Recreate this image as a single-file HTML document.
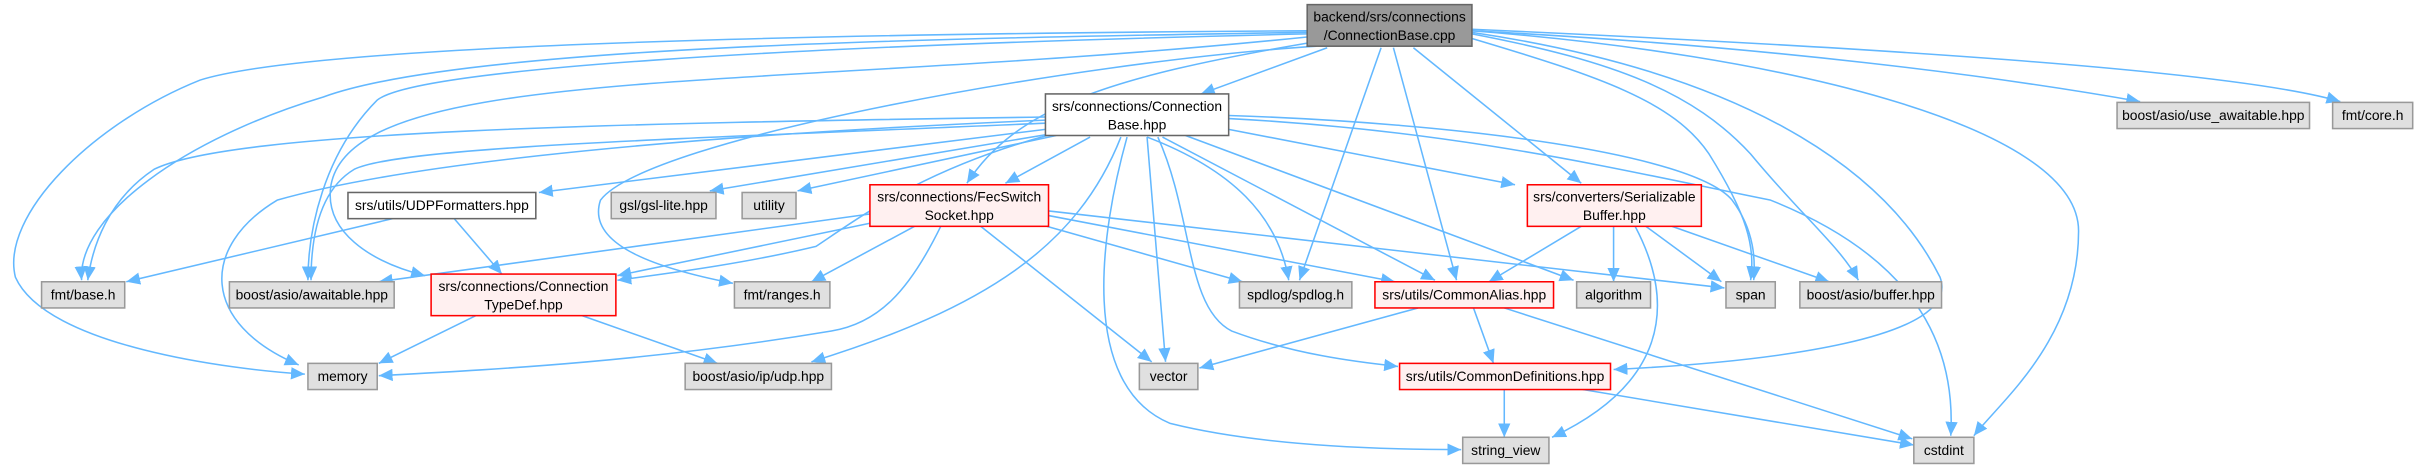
<!DOCTYPE html>
<html><head><meta charset="utf-8"><style>
html,body{margin:0;padding:0;background:#fff;}
svg{display:block;}
text{font-family:"Liberation Sans",Arial,sans-serif;font-size:9px;fill:#000;text-anchor:middle;}
.e{fill:none;stroke:#63b8ff;stroke-width:1;marker-end:url(#a);}
.g{fill:#e0e0e0;stroke:#999;stroke-width:1;}
.w{fill:#fff;stroke:#666;stroke-width:1;}
.r{fill:#fff0f0;stroke:#f00;stroke-width:1;}
.k{fill:#999;stroke:#666;stroke-width:1;}
</style></head><body>
<svg width="2425" height="465" viewBox="0 0 1575 302" preserveAspectRatio="none" xmlns="http://www.w3.org/2000/svg">
<defs><marker id="a" markerUnits="userSpaceOnUse" markerWidth="10" markerHeight="8" refX="9" refY="4" orient="auto"><path d="M0,0 L9,4 L0,8 Z" fill="#63b8ff"/></marker></defs>
<path class="e" d="M849,20 C500,22 200,30 130,52 C60,80 0,140 10,180 C30,225 150,240 198,243"/>
<path class="e" d="M849,21 C600,25 300,30 210,63 C120,90 50,140 53,182"/>
<path class="e" d="M849,22 C500,30 270,45 245,65 C210,100 200,150 200,182"/>
<path class="e" d="M849,24 C500,60 230,40 215,120 C210,150 240,170 276,179"/>
<path class="e" d="M855,30 C700,40 420,90 390,130 C380,160 430,175 476,184"/>
<path class="e" d="M849,28 C720,50 660,70 628,119"/>
<path class="e" d="M862,31 L780,61"/>
<path class="e" d="M897,31 L844,182"/>
<path class="e" d="M905,31 L946,182"/>
<path class="e" d="M918,31 L1027,119"/>
<path class="e" d="M956,25 C1040,50 1087,66 1110,100 C1135,140 1140,160 1137,182"/>
<path class="e" d="M956,22 C1050,40 1100,60 1137,100 C1170,140 1195,160 1207,182"/>
<path class="e" d="M956,21 C1150,50 1230,120 1260,180 C1275,220 1150,235 1048,240"/>
<path class="e" d="M956,20 C1150,35 1350,80 1350,150 C1350,220 1300,260 1282,283"/>
<path class="e" d="M956,20 C1150,30 1300,50 1390,66"/>
<path class="e" d="M956,19 C1200,30 1450,45 1520,66"/>
<path class="e" d="M679,76 C400,80 150,85 100,110 C70,130 60,160 57,182"/>
<path class="e" d="M679,78 C400,90 250,110 180,130 C130,160 130,210 194,237"/>
<path class="e" d="M679,80 C450,90 260,95 230,110 C205,125 202,160 202,182"/>
<path class="e" d="M680,88 C600,110 560,140 530,160 C480,172 430,178 401,182"/>
<path class="e" d="M679,84 L350,125"/>
<path class="e" d="M682,87 L461,124"/>
<path class="e" d="M686,88 L518,124"/>
<path class="e" d="M708,89 L653,119"/>
<path class="e" d="M745,89 C800,110 830,140 837,182"/>
<path class="e" d="M755,89 L932,182"/>
<path class="e" d="M770,88 L1022,182"/>
<path class="e" d="M798,84 L984,120"/>
<path class="e" d="M798,75 C950,80 1100,100 1125,130 C1140,150 1140,170 1139,182"/>
<path class="e" d="M798,77 C950,85 1050,110 1150,130 C1250,170 1270,230 1267,283"/>
<path class="e" d="M745,89 L757,235"/>
<path class="e" d="M728,89 C700,160 640,200 527,235"/>
<path class="e" d="M732,89 C715,150 700,250 760,275 C820,290 900,292 949,292"/>
<path class="e" d="M752,89 C775,140 770,200 800,215 C840,230 880,235 908,238"/>
<path class="e" d="M255,142 L82,183"/>
<path class="e" d="M295,142 L326,178"/>
<path class="e" d="M611,147 C590,190 570,210 540,215 C420,235 320,240 246,244"/>
<path class="e" d="M565,139 L246,183"/>
<path class="e" d="M565,145 L401,179"/>
<path class="e" d="M594,147 L527,183"/>
<path class="e" d="M637,147 L748,235"/>
<path class="e" d="M680,147 L807,183"/>
<path class="e" d="M681,140 L906,183"/>
<path class="e" d="M681,137 L1120,187"/>
<path class="e" d="M309,205 L246,236"/>
<path class="e" d="M378,205 L466,236"/>
<path class="e" d="M1027,147 L967,183"/>
<path class="e" d="M1048,147 L1048,183"/>
<path class="e" d="M1069,147 L1118,183"/>
<path class="e" d="M1086,147 L1188,183"/>
<path class="e" d="M1062,147 C1090,200 1080,250 1008,284"/>
<path class="e" d="M921,200 L779,239"/>
<path class="e" d="M957,200 L970,236"/>
<path class="e" d="M977,200 L1242,285"/>
<path class="e" d="M977,253 L977,284"/>
<path class="e" d="M1028,253 L1243,289"/>

<rect class="k" x="849" y="3" width="107" height="27"/><text x="902.5" y="14">backend/srs/connections</text><text x="902.5" y="26">/ConnectionBase.cpp</text>
<rect class="w" x="679" y="61" width="119" height="27"/><text x="738.5" y="72">srs/connections/Connection</text><text x="738.5" y="84">Base.hpp</text>
<rect class="g" x="1375" y="66.5" width="125" height="17"/><text x="1437.5" y="78">boost/asio/use_awaitable.hpp</text>
<rect class="g" x="1515" y="66.5" width="52" height="17"/><text x="1541" y="78">fmt/core.h</text>
<rect class="w" x="226" y="125" width="122" height="17"/><text x="287" y="136.5">srs/utils/UDPFormatters.hpp</text>
<rect class="g" x="397" y="125" width="68" height="17"/><text x="431" y="136.5">gsl/gsl-lite.hpp</text>
<rect class="g" x="482" y="125" width="35" height="17"/><text x="499.5" y="136.5">utility</text>
<rect class="r" x="565" y="120" width="116" height="27"/><text x="623" y="131">srs/connections/FecSwitch</text><text x="623" y="143">Socket.hpp</text>
<rect class="r" x="992" y="120" width="113" height="27"/><text x="1048.5" y="131">srs/converters/Serializable</text><text x="1048.5" y="143">Buffer.hpp</text>
<rect class="g" x="27" y="183" width="54" height="17"/><text x="54" y="194.5">fmt/base.h</text>
<rect class="g" x="149" y="183" width="107" height="17"/><text x="202.5" y="194.5">boost/asio/awaitable.hpp</text>
<rect class="r" x="280" y="178" width="120" height="27"/><text x="340" y="189">srs/connections/Connection</text><text x="340" y="201">TypeDef.hpp</text>
<rect class="g" x="477" y="183" width="62" height="17"/><text x="508" y="194.5">fmt/ranges.h</text>
<rect class="g" x="805" y="183" width="73" height="17"/><text x="841.5" y="194.5">spdlog/spdlog.h</text>
<rect class="r" x="893" y="183" width="116" height="17"/><text x="951" y="194.5">srs/utils/CommonAlias.hpp</text>
<rect class="g" x="1024" y="183" width="48" height="17"/><text x="1048" y="194.5">algorithm</text>
<rect class="g" x="1121" y="183" width="32" height="17"/><text x="1137" y="194.5">span</text>
<rect class="g" x="1169" y="183" width="92" height="17"/><text x="1215" y="194.5">boost/asio/buffer.hpp</text>
<rect class="g" x="200" y="236" width="45" height="17"/><text x="222.5" y="247.5">memory</text>
<rect class="g" x="445" y="236" width="95" height="17"/><text x="492.5" y="247.5">boost/asio/ip/udp.hpp</text>
<rect class="g" x="740" y="236" width="38" height="17"/><text x="759" y="247.5">vector</text>
<rect class="r" x="909" y="236" width="137" height="17"/><text x="977.5" y="247.5">srs/utils/CommonDefinitions.hpp</text>
<rect class="g" x="950" y="284" width="56" height="17"/><text x="978" y="295.5">string_view</text>
<rect class="g" x="1243" y="284" width="39" height="17"/><text x="1262.5" y="295.5">cstdint</text>
</svg>
</body></html>
